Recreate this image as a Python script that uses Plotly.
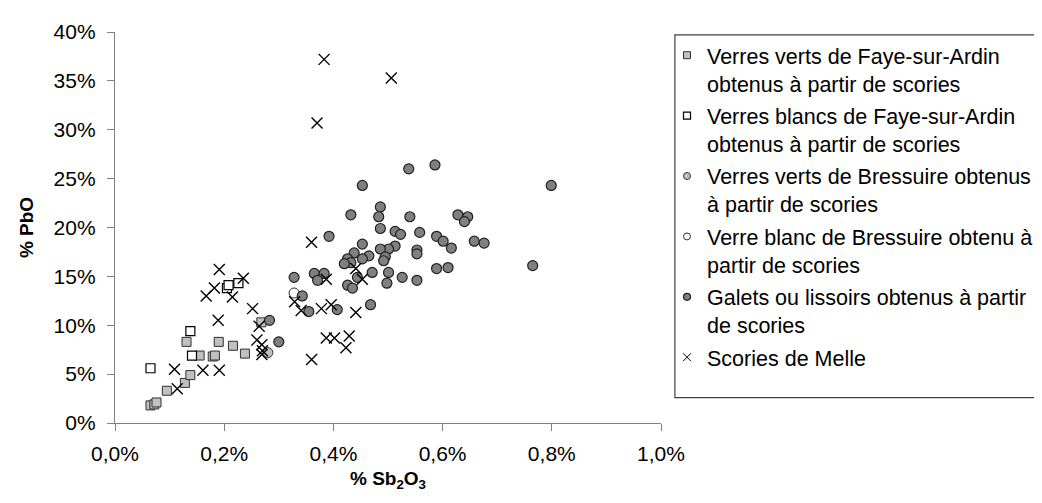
import plotly.graph_objects as go

# Sb2O3 (%) and PbO (%) values
faye_verts_sb = [0.065, 0.072, 0.076, 0.095, 0.128, 0.138, 0.131, 0.155, 0.179, 0.183, 0.190, 0.216, 0.238, 0.268]
faye_verts_pb = [1.8, 1.9, 2.1, 3.3, 4.1, 4.9, 8.3, 6.9, 6.8, 6.9, 8.3, 7.9, 7.1, 10.3]

faye_blancs_sb = [0.065, 0.138, 0.141, 0.205, 0.208, 0.226]
faye_blancs_pb = [5.6, 9.4, 6.9, 13.8, 14.1, 14.3]

bress_verts_sb = [0.280]
bress_verts_pb = [7.2]

bress_blanc_sb = [0.328]
bress_blanc_pb = [13.3]

galets_sb = [0.283, 0.300, 0.328, 0.343, 0.355, 0.407,
             0.586, 0.538, 0.453, 0.486, 0.432, 0.483, 0.540, 0.628, 0.646, 0.640,
             0.486, 0.513, 0.523, 0.558, 0.392, 0.589, 0.601, 0.616, 0.658, 0.676,
             0.453, 0.513, 0.501, 0.486, 0.553, 0.553, 0.495, 0.492, 0.438, 0.465,
             0.453, 0.426, 0.432, 0.420, 0.444, 0.471, 0.501, 0.526, 0.553, 0.589,
             0.610, 0.498, 0.365, 0.383, 0.371, 0.426, 0.435, 0.468, 0.799, 0.765]
galets_pb = [10.5, 8.3, 14.9, 13.0, 11.4, 11.6,
             26.4, 26.0, 24.3, 22.1, 21.3, 21.1, 21.1, 21.3, 21.1, 20.6,
             19.9, 19.6, 19.3, 19.5, 19.1, 19.1, 18.6, 17.9, 18.6, 18.4,
             18.3, 18.1, 17.8, 17.8, 17.7, 17.3, 17.0, 16.6, 17.4, 17.1,
             16.8, 16.8, 16.4, 16.3, 14.9, 15.4, 15.4, 14.9, 14.6, 15.8,
             15.9, 14.3, 15.3, 15.3, 14.6, 14.1, 13.8, 12.1, 24.3, 16.1]

melle_sb = [0.383, 0.506, 0.370, 0.191, 0.235, 0.182, 0.167, 0.215, 0.252, 0.189,
            0.264, 0.260, 0.269, 0.270, 0.269, 0.109, 0.161, 0.191, 0.114, 0.329,
            0.341, 0.360, 0.441, 0.387, 0.453, 0.378, 0.396, 0.441, 0.387, 0.402,
            0.429, 0.423, 0.360]
melle_pb = [37.2, 35.3, 30.7, 15.7, 14.8, 13.8, 13.0, 12.9, 11.7, 10.5,
            9.9, 8.5, 8.0, 7.4, 7.0, 5.5, 5.4, 5.4, 3.5, 12.4,
            11.5, 18.5, 15.8, 14.7, 14.7, 11.7, 12.1, 11.3, 8.7, 8.7,
            8.9, 7.7, 6.5]

names = [
    "Verres verts de Faye-sur-Ardin<br>obtenus à partir de scories",
    "Verres blancs de Faye-sur-Ardin<br>obtenus à partir de scories",
    "Verres verts de Bressuire obtenus<br>à partir de scories",
    "Verre blanc de Bressuire obtenu à<br>partir de scories",
    "Galets ou lissoirs obtenus à partir<br>de scories",
    "Scories de Melle",
]

x_ticks = [0, 0.2, 0.4, 0.6, 0.8, 1.0]
x_labels = ["0,0%", "0,2%", "0,4%", "0,6%", "0,8%", "1,0%"]
y_ticks = [0, 5, 10, 15, 20, 25, 30, 35, 40]
y_labels = ["0%", "5%", "10%", "15%", "20%", "25%", "30%", "35%", "40%"]

FONT = "Liberation Sans, Arial, sans-serif"
EDGE = "#303030"

styles = [
    dict(symbol="square", color="#c0c0c0", line=dict(color=EDGE, width=1)),
    dict(symbol="square", color="#ffffff", line=dict(color="#000000", width=1.2)),
    dict(symbol="circle", color="#c0c0c0", line=dict(color=EDGE, width=1)),
    dict(symbol="circle", color="#ffffff", line=dict(color=EDGE, width=1)),
    dict(symbol="circle", color="#808080", line=dict(color="#202020", width=1.2)),
    dict(symbol="x-thin", color="#000000", line=dict(color="#000000", width=1.4)),
]
sizes = [9, 9, 10, 10, 10, 11]
data = [
    (faye_verts_sb, faye_verts_pb),
    (faye_blancs_sb, faye_blancs_pb),
    (bress_verts_sb, bress_verts_pb),
    (bress_blanc_sb, bress_blanc_pb),
    (galets_sb, galets_pb),
    (melle_sb, melle_pb),
]

fig = go.Figure()
for i in range(6):
    xs, ys = data[i]
    fig.add_trace(go.Scatter(
        x=xs, y=ys, mode="markers", showlegend=False,
        marker=dict(size=sizes[i], **styles[i]),
    ))
# legend-only entries with small symbols
leg_sizes = [7, 7, 7, 7, 7, 8]
for i in range(6):
    st = dict(styles[i])
    if i == 5:
        st["line"] = dict(color="#000000", width=1)
    fig.add_trace(go.Scatter(
        x=[None], y=[None], mode="markers", name=names[i], showlegend=True,
        legendgroup=f"g{i}",
        marker=dict(size=leg_sizes[i], **st),
    ))

axis_common = dict(
    showgrid=False, zeroline=False, showline=True, linecolor="#808080", linewidth=1.3,
    ticks="outside", ticklen=7, tickcolor="#808080", tickwidth=1.3,
    tickfont=dict(family=FONT, size=21, color="#000000"),
)

# legend frame (drawn as a paper-referenced rectangle)
fig.add_shape(type="rect", xref="paper", yref="paper",
              x0=1.0255, x1=1.6927, y0=0.065, y1=0.9925,
              line=dict(color="#404040", width=1.2), fillcolor="rgba(0,0,0,0)", layer="below")

fig.update_layout(
    width=1042, height=503,
    margin=dict(l=107, r=385, t=15, b=88),
    paper_bgcolor="#ffffff", plot_bgcolor="#ffffff",
    font=dict(family=FONT, size=20, color="#000000"),
    xaxis=dict(
        range=[0, 1.0], tickmode="array", tickvals=x_ticks, ticktext=x_labels,
        ticklabelstandoff=5,
        title=dict(text="<b>% Sb<sub>2</sub>O<sub>3</sub></b>", font=dict(family=FONT, size=19), standoff=7),
        **axis_common,
    ),
    yaxis=dict(
        range=[0, 40], tickmode="array", tickvals=y_ticks, ticktext=y_labels,
        ticklabelstandoff=7,
        title=dict(text="<b>% PbO</b>", font=dict(family=FONT, size=19), standoff=14),
        **axis_common,
    ),
    legend=dict(
        x=1.011, y=0.993, xanchor="left", yanchor="top",
        borderwidth=0, bgcolor="rgba(0,0,0,0)",
        font=dict(family=FONT, size=21.5, color="#000000"),
        valign="top", tracegroupgap=1.5,
    ),
)

fig.write_html("out.html")
